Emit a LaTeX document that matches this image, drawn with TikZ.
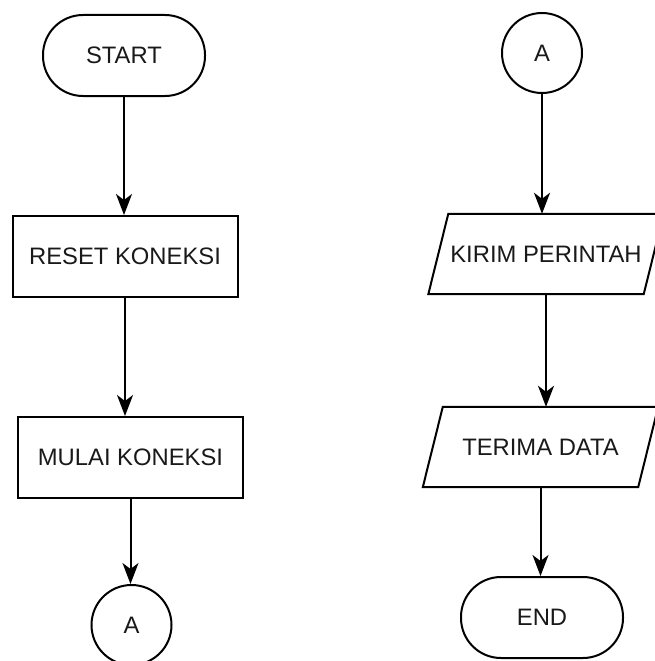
\documentclass[tikz,border=0pt]{standalone}
\usepackage{fontspec}
\setmainfont{Liberation Sans}
\usetikzlibrary{arrows.meta,calc}
\begin{document}
\begin{tikzpicture}[x=1pt,y=-1pt,
  every node/.style={font=\fontsize{23.8}{28}\selectfont, text=black!90, inner sep=0pt},
  terminal/.style={draw, line width=2pt, rounded corners=40pt, minimum width=162pt, minimum height=81pt},
  process/.style={draw, rectangle, line width=2pt, minimum width=225pt, minimum height=81pt},
  connector/.style={draw, circle, line width=2pt, minimum size=80pt},
  iobox/.style={minimum width=215pt, minimum height=80pt},
  ioline/.style={line width=2pt, line join=miter},
  flow/.style={line width=2pt, -{Stealth[length=21pt,width=16pt,inset=6pt]}}
]
\useasboundingbox (0,0) rectangle (655,661);
\clip (0,0) rectangle (655,661);

% left column
\node[terminal]  (start)  at (124,55.5)  {START};
\node[process]   (reset)  at (125,256.5) {RESET KONEKSI};
\node[process]   (mulai)  at (130.5,457.5) {MULAI KONEKSI};
\node[connector] (conA)   at (131.5,625) {A};

% right column
\node[connector] (conB)   at (542,53)    {A};
\node[iobox]     (kirim)  at (546,254)   {KIRIM PERINTAH};
\node[iobox]     (terima) at (540.5,447) {TERIMA DATA};
\node[terminal]  (finish) at (542,617.5) {END};

% data (parallelogram) outlines
\foreach \n in {kirim,terima}{
  \draw[ioline] ($(\n.south west)+(-10,0)$) -- ($(\n.north west)+(10,0)$)
    -- ($(\n.north east)+(10,0)$) -- ($(\n.south east)+(-10,0)$) -- cycle;
}

% flow lines
\draw[flow] (start.south) -- (start.south |- reset.north);
\draw[flow] (reset.south) -- (reset.south |- mulai.north);
\draw[flow] (mulai.south) -- (mulai.south |- conA.north);
\draw[flow] (conB.south)  -- (conB.south |- kirim.north);
\draw[flow] (kirim.south) -- (kirim.south |- terima.north);
\draw[flow] (terima.south) -- (terima.south |- finish.north);
\end{tikzpicture}
\end{document}
